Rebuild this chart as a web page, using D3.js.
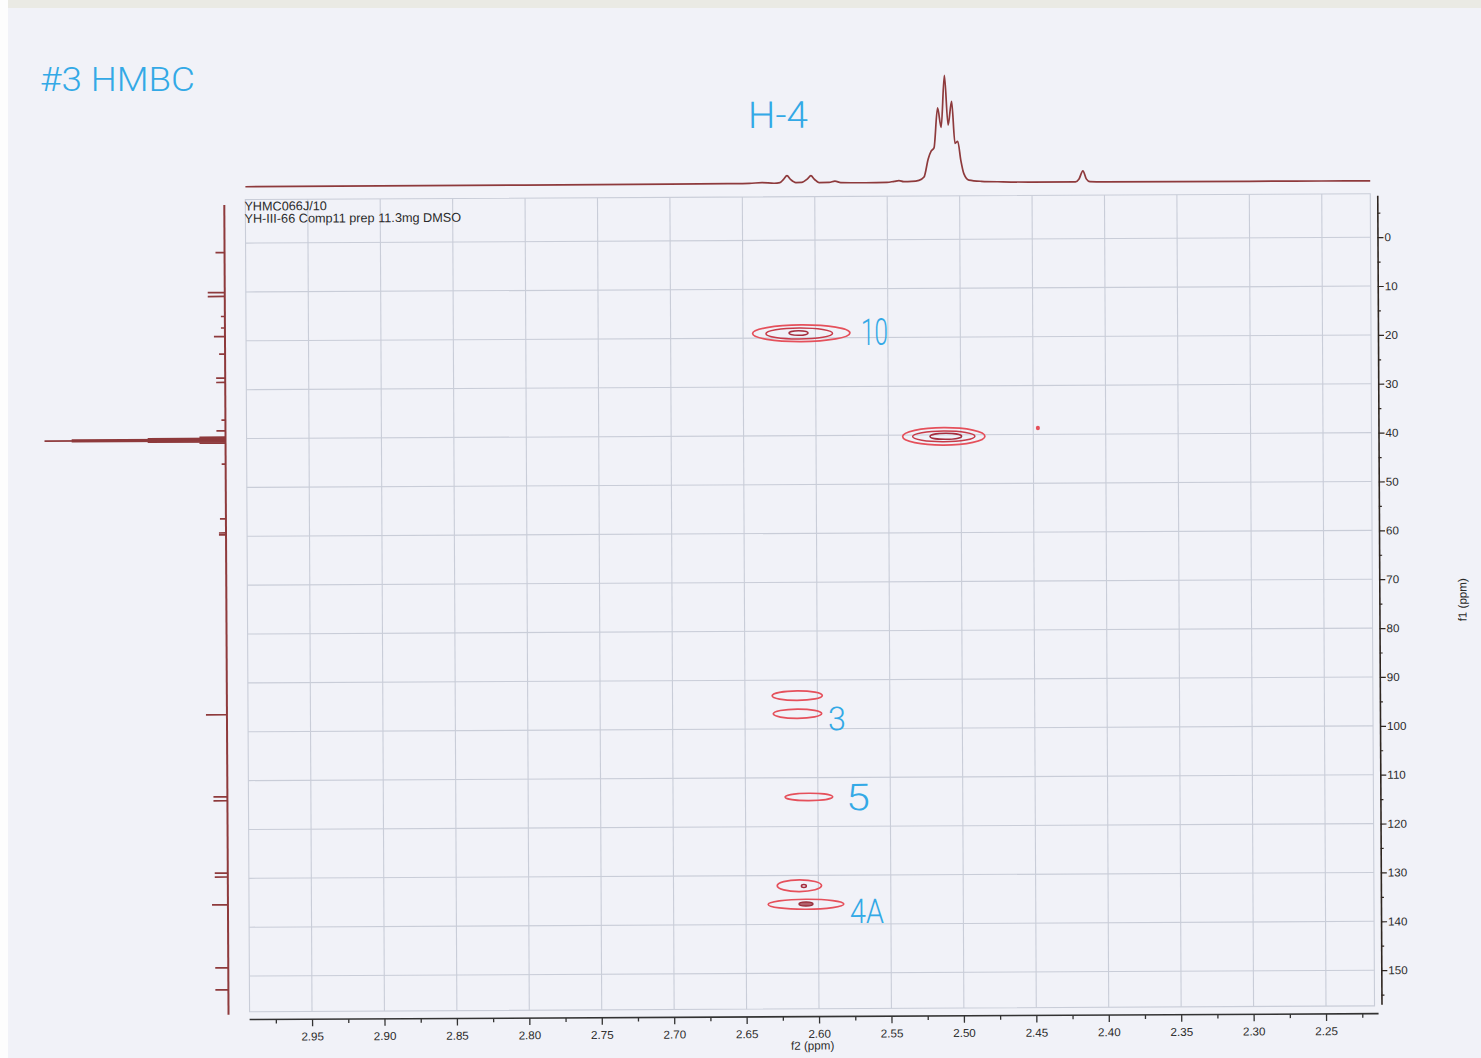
<!DOCTYPE html>
<html>
<head>
<meta charset="utf-8">
<script src="https://cdn.jsdelivr.net/npm/d3@7"></script>
<style>
  html, body { margin: 0; padding: 0; background: #fdfdfd; }
  svg { display: block; }
</style>
</head>
<body>
<svg id="chart" width="1481" height="1058"></svg>
<script>
// ---------------- data ----------------
// f2 (1H) axis ticks, ppm
const f2Major = [2.95, 2.90, 2.85, 2.80, 2.75, 2.70, 2.65, 2.60, 2.55, 2.50, 2.45, 2.40, 2.35, 2.30, 2.25];
const f2Minor = [2.975, 2.925, 2.875, 2.825, 2.775, 2.725, 2.675, 2.625, 2.575, 2.525, 2.475, 2.425, 2.375, 2.325, 2.275, 2.225];
// f1 (13C) axis ticks, ppm
const f1Major = [0, 10, 20, 30, 40, 50, 60, 70, 80, 90, 100, 110, 120, 130, 140, 150];
const f1Minor = [-5, 5, 15, 25, 35, 45, 55, 65, 75, 85, 95, 105, 115, 125, 135, 145, 155];

// 1H projection trace: chemical shift (ppm) and relative intensity
const protonPpm = [2.993, 2.90, 2.80, 2.70, 2.66, 2.645, 2.6364, 2.628, 2.624, 2.6215, 2.6191, 2.6167, 2.613,
  2.609, 2.6050, 2.6026, 2.6002, 2.597, 2.590, 2.5860, 2.582, 2.565, 2.550, 2.5450, 2.5418, 2.5385, 2.533,
  2.528, 2.5245, 2.5215, 2.5195, 2.5175, 2.5149, 2.5125, 2.5101, 2.5077, 2.5052, 2.5030, 2.5011, 2.4990,
  2.4970, 2.4935, 2.485, 2.47, 2.45, 2.42, 2.4175, 2.4148, 2.4125, 2.410, 2.40, 2.35, 2.30, 2.25, 2.2165];
const protonInt = [0.3, 0.4, 0.5, 0.6, 0.8, 1.0, 1.6, 1.0, 1.5, 4.5, 7.9, 4.5, 1.5,
  1.6, 4.8, 7.9, 4.5, 1.4, 1.5, 2.6, 1.3, 1.0, 1.2, 2.2, 2.8, 1.8, 2.0,
  3.0, 6.0, 23, 30, 33, 70, 52, 100, 54, 76, 37, 39, 21,
  9, 3.0, 1.8, 1.2, 0.8, 0.8, 3.5, 11, 3.5, 0.9, 0.6, 0.5, 0.5, 0.4, 0.3];

// 13C projection lines: chemical shift (ppm) and relative intensity
const carbonPpm = [1.94, 10.1, 10.9, 15.0, 17.35, 19.1, 22.7, 27.6, 28.5, 36.2, 38.4,
  39.7, 39.95, 40.15, 40.3, 40.45, 40.65, 40.9,
  45.2, 56.4, 59.3, 59.7, 96.5, 113.3, 114.1, 128.9, 129.7, 135.4, 148.3, 152.8];
const carbonInt = [5.0, 9.4, 9.4, 2.2, 2.2, 6.1, 3.3, 5.0, 5.0, 2.2, 5.0,
  14.4, 43, 85, 100, 85, 43, 14.4,
  2.2, 3.3, 3.9, 3.9, 11.6, 7.7, 7.7, 7.2, 7.2, 8.8, 7.2, 7.2];

// HMBC cross-peak contours: centre (f2, f1), half widths (ppm), contour level
const peakF2 = [2.6098, 2.6112, 2.6117, 2.5118, 2.5118, 2.5104, 2.6139, 2.6138, 2.6062, 2.6131, 2.6100, 2.6086, 2.6086, 2.4468];
const peakF1 = [19.05, 19.1, 19.0, 40.3, 40.3, 40.3, 93.2, 96.9, 113.95, 132.1, 132.15, 135.9, 135.85, 38.7];
const peakHalfF2 = [0.0336, 0.0230, 0.0066, 0.0284, 0.0215, 0.0109, 0.0173, 0.0167, 0.0164, 0.0153, 0.0017, 0.0261, 0.0048, 0.0009];
const peakHalfF1 = [1.70, 1.13, 0.47, 1.78, 1.09, 0.61, 0.98, 0.96, 0.76, 1.19, 0.30, 1.02, 0.41, 0.30];
const peakLevel = [0, 1, 2, 0, 1, 2, 0, 0, 0, 0, 2, 0, 3, 4];

// assignment notes placed next to the cross peaks (f2, f1)
const noteText = ["10", "3", "5", "4A"];
const noteF2 = [2.5686, 2.5928, 2.5806, 2.5783];
const noteF1 = [21.5, 100.3, 116.7, 139.8];

const sampleLines = ["YHMC066J/10", "YH-III-66 Comp11 prep 11.3mg DMSO"];
const titleNote = "#3 HMBC";
const protonNote = "H-4";
const protonNoteF2 = 2.6458;

// ---------------- layout ----------------
const svg = d3.select("#chart");
const W = 1481, H = 1058;
const f2Range = [2.9931, 2.2165];
const f1Range = [-8.9, 157.3];

const x = d3.scaleLinear().domain([2.95, 2.25]).range([309.5, 1323.5]);
const y = d3.scaleLinear().domain([0, 150]).range([240.5, 973.5]);
const yTop = d3.scaleLinear().domain([0, 100]).range([184.5, 76.5]);
const xLeft = d3.scaleLinear().domain([0, 100]).range([226, 45]);

const ink = "#2a2a2a";
const traceColor = "#8e3a3c";
const gridColor = "#c9cdd8";
const noteColor = "#33a9e6";
const levelStroke = ["#e5505b", "#c73a48", "#a52d3d", "#9a2f3c", "#e5505b"];
const font = "'Liberation Sans', Arial, Helvetica, sans-serif";
const handFont = "Roboto, 'Open Sans', 'DejaVu Sans', sans-serif";

// paper
svg.append("rect").attr("width", W).attr("height", H).attr("fill", "#fdfdfd");
svg.append("rect").attr("x", 8).attr("y", 0).attr("width", W - 8).attr("height", 8).attr("fill", "#eaeae4");
svg.append("rect").attr("x", 8).attr("y", 8).attr("width", W - 8).attr("height", H - 8).attr("fill", "#f1f2f8");

// the printed sheet sits slightly askew
const g = svg.append("g").attr("transform", "rotate(-0.3, 740, 530)");

// plot frame and grid
const fx0 = x(f2Range[0]), fx1 = x(f2Range[1]);
const fy0 = y(f1Range[0]), fy1 = y(f1Range[1]);
const grid = g.append("g").attr("stroke", gridColor).attr("stroke-width", 1.1).attr("fill", "none");
grid.selectAll("line.v").data(f2Major).join("line")
  .attr("x1", d => x(d)).attr("x2", d => x(d)).attr("y1", fy0).attr("y2", fy1);
grid.selectAll("line.h").data(f1Major).join("line")
  .attr("x1", fx0).attr("x2", fx1).attr("y1", d => y(d)).attr("y2", d => y(d));
grid.append("rect").attr("x", fx0).attr("y", fy0).attr("width", fx1 - fx0).attr("height", fy1 - fy0);

// sample header
g.append("g").selectAll("text").data(sampleLines).join("text")
  .attr("x", fx0 - 1).attr("y", (d, i) => 208 + i * 12.3)
  .attr("font-family", font).attr("font-size", 12.7).attr("fill", ink)
  .text(d => d);

// bottom f2 axis
const axisY = 1017;
g.append("line").attr("x1", fx0).attr("x2", fx1 + 4).attr("y1", axisY).attr("y2", axisY)
  .attr("stroke", "#333").attr("stroke-width", 1.6);
const xAxis = g.append("g").attr("transform", `translate(0,${axisY})`)
  .call(d3.axisBottom(x).tickValues(f2Major).tickSize(7).tickSizeOuter(0).tickPadding(6).tickFormat(d3.format(".2f")));
xAxis.select(".domain").remove();
xAxis.selectAll("line").attr("stroke", "#333").attr("stroke-width", 1.3);
xAxis.selectAll("text").attr("font-family", font).attr("font-size", 11.6).attr("fill", ink);
const xMinor = g.append("g").attr("transform", `translate(0,${axisY})`)
  .call(d3.axisBottom(x).tickValues(f2Minor).tickSize(4).tickSizeOuter(0).tickFormat(""));
xMinor.select(".domain").remove();
xMinor.selectAll("line").attr("stroke", "#333").attr("stroke-width", 1.3);
g.append("text").attr("x", x(2.6045)).attr("y", 1050).attr("text-anchor", "middle")
  .attr("font-family", font).attr("font-size", 11.6).attr("fill", ink).text("f2 (ppm)");

// right f1 axis
const axisX = 1379;
const yAxisScale = y.copy().domain([-8.6, 157]).range([y(-8.6), y(157)]);
const yAxis = g.append("g").attr("transform", `translate(${axisX},0)`)
  .call(d3.axisRight(yAxisScale).tickValues(f1Major).tickSize(6).tickSizeOuter(0).tickPadding(1));
yAxis.select(".domain").attr("stroke", "#2e2620").attr("stroke-width", 1.6);
yAxis.selectAll(".tick line").attr("stroke", "#2e2620").attr("stroke-width", 1.2);
yAxis.selectAll("text").attr("font-family", font).attr("font-size", 11.6).attr("fill", ink);
const yMinor = g.append("g").attr("transform", `translate(${axisX},0)`)
  .call(d3.axisRight(yAxisScale).tickValues(f1Minor).tickSize(3).tickSizeOuter(0).tickFormat(""));
yMinor.select(".domain").remove();
yMinor.selectAll("line").attr("stroke", "#2e2620").attr("stroke-width", 1.2);
g.append("text").attr("transform", `translate(1462,${y(74.3)}) rotate(-90)`)
  .attr("text-anchor", "middle").attr("dy", "0.35em")
  .attr("font-family", font).attr("font-size", 11.6).attr("fill", ink).text("f1 (ppm)");

// 1H projection on top
const protonPts = protonPpm.map((p, i) => [p, protonInt[i]]);
g.append("path").datum(protonPts)
  .attr("d", d3.line().x(d => x(d[0])).y(d => yTop(d[1])).curve(d3.curveMonotoneX))
  .attr("fill", "none").attr("stroke", traceColor).attr("stroke-width", 1.7).attr("stroke-linejoin", "round");

// 13C projection on the left
g.append("line").attr("x1", xLeft(0)).attr("x2", xLeft(0)).attr("y1", y(-7.8)).attr("y2", y(157.9))
  .attr("stroke", traceColor).attr("stroke-width", 2);
g.append("g").selectAll("line").data(carbonPpm).join("line")
  .attr("x1", xLeft(0)).attr("x2", (d, i) => xLeft(carbonInt[i]))
  .attr("y1", d => y(d)).attr("y2", d => y(d))
  .attr("stroke", traceColor).attr("stroke-width", 1.7);

// cross-peak contours
const contours = g.append("g");
peakF2.forEach((f2, i) => {
  const lvl = peakLevel[i];
  contours.append("ellipse")
    .attr("cx", x(f2)).attr("cy", y(peakF1[i]))
    .attr("rx", Math.abs(x(f2 - peakHalfF2[i]) - x(f2)))
    .attr("ry", Math.abs(y(peakF1[i] + peakHalfF1[i]) - y(peakF1[i])))
    .attr("fill", lvl === 3 ? "#9a2f3c" : (lvl === 4 ? "#e5505b" : "none"))
    .attr("fill-opacity", lvl === 3 ? 0.75 : 1)
    .attr("stroke", levelStroke[lvl])
    .attr("stroke-width", lvl === 0 ? 1.7 : 1.5);
});

// handwritten assignments
const noteSize = { "10": [37, 27], "3": [33, 18], "5": [37, 24], "4A": [34, 34] };
g.append("g").selectAll("text").data(noteText).join("text")
  .attr("x", (d, i) => x(noteF2[i])).attr("y", (d, i) => y(noteF1[i]))
  .attr("font-family", handFont).attr("font-weight", 300)
  .attr("font-size", d => noteSize[d][0])
  .attr("textLength", d => noteSize[d][1]).attr("lengthAdjust", "spacingAndGlyphs")
  .attr("fill", noteColor).text(d => d);
g.append("text").attr("x", x(protonNoteF2)).attr("y", 128)
  .attr("font-family", handFont).attr("font-weight", 300).attr("font-size", 37)
  .attr("textLength", 60).attr("lengthAdjust", "spacingAndGlyphs")
  .attr("fill", noteColor).text(protonNote);
svg.append("text").attr("x", 40).attr("y", 91)
  .attr("font-family", handFont).attr("font-weight", 300).attr("font-size", 34)
  .attr("textLength", 155).attr("lengthAdjust", "spacingAndGlyphs")
  .attr("fill", noteColor).text(titleNote);
</script>
</body>
</html>
